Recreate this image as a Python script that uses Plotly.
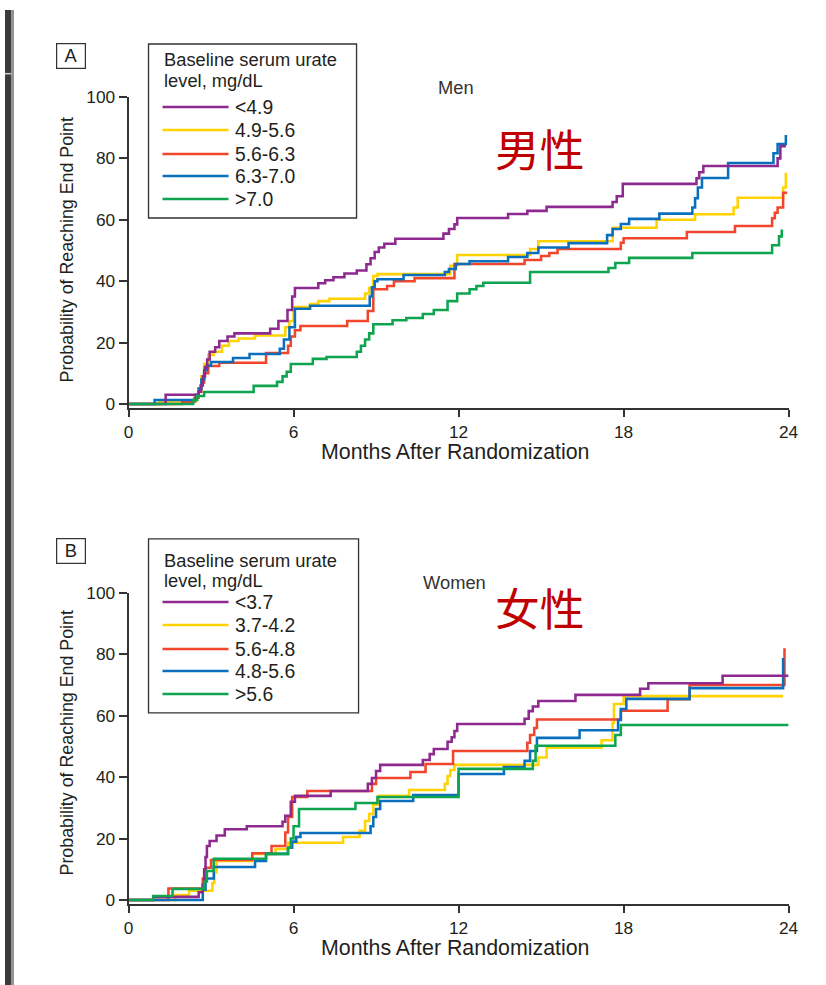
import plotly.graph_objects as go

# ---------------- Panel A: men (time in months, cumulative probability %) ----------------
men_lt49_t = [0, 1.35, 2.55, 2.62, 2.7, 2.78, 2.86, 2.95, 3.15, 3.3, 3.6, 3.85, 5.15, 5.45, 5.78, 5.95, 6.05,
              6.9, 7.15, 7.45, 7.85, 8.3, 8.65, 8.8, 8.95, 9.1, 9.3, 9.7, 11.45, 11.65, 11.85, 11.95, 13.8,
              14.5, 15.2, 17.6, 17.75, 17.97, 20.65, 20.75, 20.9, 23.6, 23.7, 23.9]
men_lt49_v = [0, 3, 4, 6, 9, 12, 14.5, 17, 18.5, 20.5, 22, 23, 24.5, 27, 30.6, 35, 37.8,
              39.3, 40.3, 41.3, 42.5, 43.5, 45.5, 47.5, 49.5, 51, 52.2, 53.8, 55.5, 57, 58.5, 60.6, 61.9,
              62.9, 64.2, 65.8, 67.7, 71.7, 73.5, 75.5, 77.5, 80, 84, 84]

men_49_56_t = [0, 1.1, 2.45, 2.55, 2.65, 2.75, 2.9, 3.1, 3.4, 3.65, 4.0, 4.6, 5.7, 5.85, 6.0, 6.6, 6.9, 7.3,
               8.6, 8.75, 8.9, 9.05, 11.7, 11.95, 14.6, 14.9, 17.6, 19.2, 20.6, 22.0, 22.15, 23.8, 23.9]
men_49_56_v = [0, 0.8, 2, 5, 9, 13, 16, 17, 19, 20.5, 21.3, 22.3, 25, 27, 31.6, 32.6, 33.5, 34.3,
               36, 37.8, 41.7, 42.3, 45, 48.5, 50.5, 53, 57.4, 60, 61.8, 64, 67.2, 70.5, 75.3]

men_56_63_t = [0, 1.95, 2.4, 2.55, 2.65, 2.75, 2.9, 3.3, 5.0, 5.8, 5.9, 6.05, 6.25, 7.95, 8.7, 8.9, 9.4,
               9.65, 10.4, 11.85, 14.4, 15.0, 15.3, 15.6, 17.9, 18.0, 20.3, 22.05, 23.4, 23.5, 23.6, 23.8, 23.95]
men_56_63_v = [0, 0.7, 2, 4, 7, 10, 12.4, 13.4, 16.6, 19, 22, 24, 25.4, 27, 30.3, 37.4, 38.4,
               40, 41, 45.6, 46.9, 48.2, 49.2, 50.5, 52.5, 54, 56, 58, 60.5, 62.3, 64, 68.8, 68.8]

men_63_70_t = [0, 0.95, 2.45, 2.55, 2.65, 2.75, 2.85, 3.0, 3.8, 4.4, 5.5, 5.65, 5.85, 6.05, 6.6, 8.77,
               8.85, 8.95, 9.05, 10.0, 11.5, 11.65, 11.9, 12.4, 13.8, 14.5, 14.9, 16.0, 17.4, 17.6, 17.9,
               18.2, 19.3, 20.5, 20.6, 20.7, 20.85, 21.8, 23.45, 23.6, 23.9]
men_63_70_v = [0, 1.3, 3, 5, 8, 11, 12.5, 13.7, 15, 16.3, 18, 21, 25, 31, 32, 35,
               38, 40, 40.6, 42, 43, 44, 45.6, 46.5, 47.9, 49.2, 51, 52.4, 55, 57, 58.6,
               60.3, 62, 64, 67, 70.5, 73.6, 78.5, 81.7, 84.7, 87.6]

men_gt70_t = [0, 2.35, 2.5, 2.75, 4.55, 5.4, 5.6, 5.75, 5.9, 6.7, 7.2, 8.3, 8.45, 8.6, 8.75, 8.9, 9.6,
              10.1, 10.7, 11.1, 11.6, 11.95, 12.4, 12.65, 12.9, 14.6, 17.45, 17.7, 18.2, 20.5, 23.4,
              23.65, 23.75, 23.8]
men_gt70_v = [0, 1.3, 2.6, 3.9, 5.9, 7.2, 9, 10.5, 13, 14.7, 15.3, 17, 19, 21, 23, 26, 27.3,
              28, 29.3, 30.6, 33.5, 36, 37.4, 38.4, 39.5, 43, 44.3, 45.9, 47.6, 49.2, 51.7,
              54.6, 56.4, 56.4]

# ---------------- Panel B: women ----------------
women_lt37_t = [0, 0.9, 2.55, 2.7, 2.75, 2.8, 2.85, 2.95, 3.2, 3.5, 4.3, 5.6, 5.7, 5.9, 6.05, 7.35, 8.7,
                8.85, 9.0, 9.15, 10.7, 10.95, 11.1, 11.6, 11.75, 11.85, 11.95, 14.4, 14.55, 14.7, 14.9,
                16.25, 18.6, 18.9, 21.6, 24]
women_lt37_v = [0, 1, 2.5, 5, 10, 14, 17.6, 19.2, 21, 23, 24, 25.5, 27.4, 32, 33.9, 35.5, 37.8,
                39.7, 42, 44, 45.6, 47.5, 49.2, 51.5, 53, 55, 57.3, 59, 61.5, 63, 64.8,
                66.8, 68.8, 70.6, 73, 73]

women_37_42_t = [0, 1.7, 2.2, 3.05, 3.12, 3.2, 4.5, 5.35, 5.8, 7.8, 8.4, 8.6, 8.75, 8.9, 9.1, 10.2,
                 11.5, 11.6, 11.7, 11.85, 14.9, 15.2, 17.2, 17.6, 17.65, 18.0, 23.8]
women_37_42_v = [0, 1.6, 3, 5.5, 9, 12.7, 15, 16.6, 18.6, 20.5, 22.5, 25.7, 28, 31, 33.9, 35.8,
                 37.8, 40.4, 42.3, 44, 46.4, 49.6, 52, 57.7, 63.8, 66.4, 66.4]

women_56_48_t = [0, 1.45, 2.7, 2.8, 3.0, 4.5, 5.2, 5.7, 5.8, 5.95, 6.5, 8.85, 9.0, 10.25, 10.8, 11.8,
                 14.5, 14.6, 14.75, 14.85, 17.9, 19.6, 20.4, 23.85]
women_56_48_v = [0, 3.7, 7, 10.5, 13, 15.2, 17.6, 22, 27, 33.5, 35.5, 37.8, 39.7, 41.7, 44.3, 48.5,
                 51.2, 53.7, 56, 58.8, 61.6, 65.4, 70, 82]

women_48_56_t = [0, 2.7, 2.8, 3.1, 4.6, 5.0, 5.8, 5.95, 6.1, 6.25, 8.8, 8.9, 9.0, 9.15, 10.35, 12.0,
                 13.65, 14.4, 14.6, 14.85, 16.4, 17.8, 17.9, 18.1, 20.4, 23.8]
women_48_56_v = [0, 3.3, 7, 10.7, 12.7, 15, 17, 19, 20.5, 21.8, 24, 27, 29.6, 32.2, 34.2, 41,
                 43.3, 45.3, 48.5, 52.8, 55.3, 58.6, 62.2, 65.5, 69, 78.8]

women_gt56_t = [0, 0.9, 1.6, 2.75, 2.85, 3.1, 5.0, 5.8, 5.9, 6.0, 6.2, 8.25, 9.05, 12.0, 14.7, 14.8,
                17.7, 17.9, 24]
women_gt56_v = [0, 1.3, 3.6, 6, 9.4, 13.4, 15, 17, 20, 24, 29.6, 31.6, 33.5, 42.7, 45.3, 50.2,
                53.7, 57, 57]

men_labels = ["<4.9", "4.9-5.6", "5.6-6.3", "6.3-7.0", ">7.0"]
women_labels = ["<3.7", "3.7-4.2", "5.6-4.8", "4.8-5.6", ">5.6"]
x_ticks = [0, 6, 12, 18, 24]
y_ticks = [0, 20, 40, 60, 80, 100]

# ---------------- layout geometry ----------------
# Positions below are given in screen pixels of the final page; the page shows the
# figure slightly reduced and offset, so convert screen pixels to figure pixels.
W, H = 840, 995
SX, OX = 0.982, 4.5
SY, OY = 0.984, 9.0
K = 1 / SX                            # size factor for fonts, widths and tick lengths

PURPLE, YELLOW, RED, BLUE, GREEN = "#8E2A8F", "#FFD200", "#F2462C", "#0A6FBD", "#0FA550"
colors = [PURPLE, YELLOW, RED, BLUE, GREEN]
INK = "#231F20"
FONT = "Liberation Sans, Arial, Helvetica, sans-serif"


def px(x):
    """screen column -> paper x"""
    return (x - OX) / SX / W


def py(y):
    """screen row -> paper y"""
    return 1 - (y - OY) / SY / H


men = [(men_lt49_t, men_lt49_v), (men_49_56_t, men_49_56_v), (men_56_63_t, men_56_63_v),
       (men_63_70_t, men_63_70_v), (men_gt70_t, men_gt70_v)]
women = [(women_lt37_t, women_lt37_v), (women_37_42_t, women_37_42_v), (women_56_48_t, women_56_48_v),
         (women_48_56_t, women_48_56_v), (women_gt56_t, women_gt56_v)]

# stacking order: yellow, red, blue, purple, green (green on top)
draw_order = [1, 2, 3, 0, 4]

fig = go.Figure()
for data, labels, xa, ya in [(men, men_labels, "x", "y"), (women, women_labels, "x2", "y2")]:
    for i in draw_order:
        t, v = data[i]
        fig.add_trace(go.Scatter(
            x=t, y=v, mode="lines", line=dict(color=colors[i], width=2.5 * K, shape="hv"),
            name=labels[i], xaxis=xa, yaxis=ya, showlegend=False, hoverinfo="skip"))

axis_common = dict(showline=True, linecolor="#333333", linewidth=1.5 * K, ticks="outside",
                   tickcolor="#333333", tickwidth=1.5 * K, showgrid=False, zeroline=False,
                   tickfont=dict(family=FONT, size=17 * K, color=INK))

x_dom = [px(128), px(788)]
fig.update_layout(
    width=W, height=H, autosize=False,
    margin=dict(l=0, r=0, t=0, b=0, pad=0),
    paper_bgcolor="white", plot_bgcolor="white",
    xaxis=dict(domain=x_dom, range=[0, 24], tickvals=x_ticks, ticklen=7 * K, anchor="y", **axis_common),
    yaxis=dict(domain=[py(407), py(96)], range=[-1.3, 100], tickvals=y_ticks, ticklen=8 * K,
               anchor="x", **axis_common),
    xaxis2=dict(domain=x_dom, range=[0, 24], tickvals=x_ticks, ticklen=7 * K, anchor="y2", **axis_common),
    yaxis2=dict(domain=[py(903), py(592)], range=[-1.3, 100], tickvals=y_ticks, ticklen=8 * K,
                anchor="x2", **axis_common),
)

shapes = []
annotations = []

# dark viewer frame along the left edge
shapes.append(dict(type="rect", xref="paper", yref="paper", x0=0, x1=px(11), y0=0, y1=1,
                   fillcolor="#3B3B3B", line=dict(width=0), layer="above"))
shapes.append(dict(type="line", xref="paper", yref="paper", x0=px(12.3), x1=px(12.3), y0=0, y1=1,
                   line=dict(color="#8E8E8E", width=2.2 * K), layer="above"))
shapes.append(dict(type="line", xref="paper", yref="paper", x0=0, x1=px(11), y0=py(72.7), y1=py(72.7),
                   line=dict(color="#CFCFCF", width=1.5 * K), layer="above"))


def add_panel(letter, letter_y, box, title_ys, entry_ys, labels, tag, tag_y, cjk, cjk_y,
              ytitle_y, xtitle_y):
    # panel letter in a small box
    annotations.append(dict(xref="paper", yref="paper", x=px(70), y=py(letter_y), text=letter,
                            showarrow=False, xanchor="center", yanchor="middle",
                            width=27 * K, height=23 * K, bordercolor="#333333", borderwidth=1.2 * K,
                            borderpad=0, font=dict(family=FONT, size=18 * K, color=INK)))
    # legend frame
    x0, y0, x1, y1 = box
    shapes.append(dict(type="rect", xref="paper", yref="paper", x0=px(x0), x1=px(x1), y0=py(y1), y1=py(y0),
                       line=dict(color="#333333", width=1.3 * K), fillcolor="rgba(0,0,0,0)"))
    for txt, ty in zip(["Baseline serum urate", "level, mg/dL"], title_ys):
        annotations.append(dict(xref="paper", yref="paper", x=px(161), y=py(ty), text=txt,
                                showarrow=False, xanchor="left", yanchor="middle",
                                font=dict(family=FONT, size=18 * K, color=INK)))
    for i, (lab, ey) in enumerate(zip(labels, entry_ys)):
        shapes.append(dict(type="line", xref="paper", yref="paper", x0=px(162), x1=px(228),
                           y0=py(ey), y1=py(ey), line=dict(color=colors[i], width=2.5 * K)))
        annotations.append(dict(xref="paper", yref="paper", x=px(232), y=py(ey), text=lab,
                                showarrow=False, xanchor="left", yanchor="middle",
                                font=dict(family=FONT, size=19 * K, color=INK)))
    annotations.append(dict(xref="paper", yref="paper", x=px(tag[0]), y=py(tag_y), text=tag[1],
                            showarrow=False, xanchor="center", yanchor="middle",
                            font=dict(family=FONT, size=18 * K, color="#333333")))
    annotations.append(dict(xref="paper", yref="paper", x=px(539), y=py(cjk_y), text=cjk,
                            showarrow=False, xanchor="center", yanchor="middle",
                            font=dict(family="Noto Sans CJK SC", size=44 * K, color="#C00000")))
    annotations.append(dict(xref="paper", yref="paper", x=px(66), y=py(ytitle_y),
                            text="Probability of Reaching End Point", textangle=-90,
                            showarrow=False, xanchor="center", yanchor="middle",
                            font=dict(family=FONT, size=17.5 * K, color=INK)))
    annotations.append(dict(xref="paper", yref="paper", x=px(455), y=py(xtitle_y),
                            text="Months After Randomization",
                            showarrow=False, xanchor="center", yanchor="middle",
                            font=dict(family=FONT, size=21 * K, color=INK)))


add_panel("A", 55, (148, 43, 356, 217), (59, 80), (106, 129, 153, 175, 198), men_labels,
          (455, "Men"), 87, "男性", 147, 249, 451)
add_panel("B", 550.5, (148, 538, 358, 712), (560, 580), (601, 624, 648, 670, 693), women_labels,
          (454, "Women"), 582, "女性", 606, 742, 947)

fig.update_layout(shapes=shapes, annotations=annotations)
fig.write_html("out.html")
